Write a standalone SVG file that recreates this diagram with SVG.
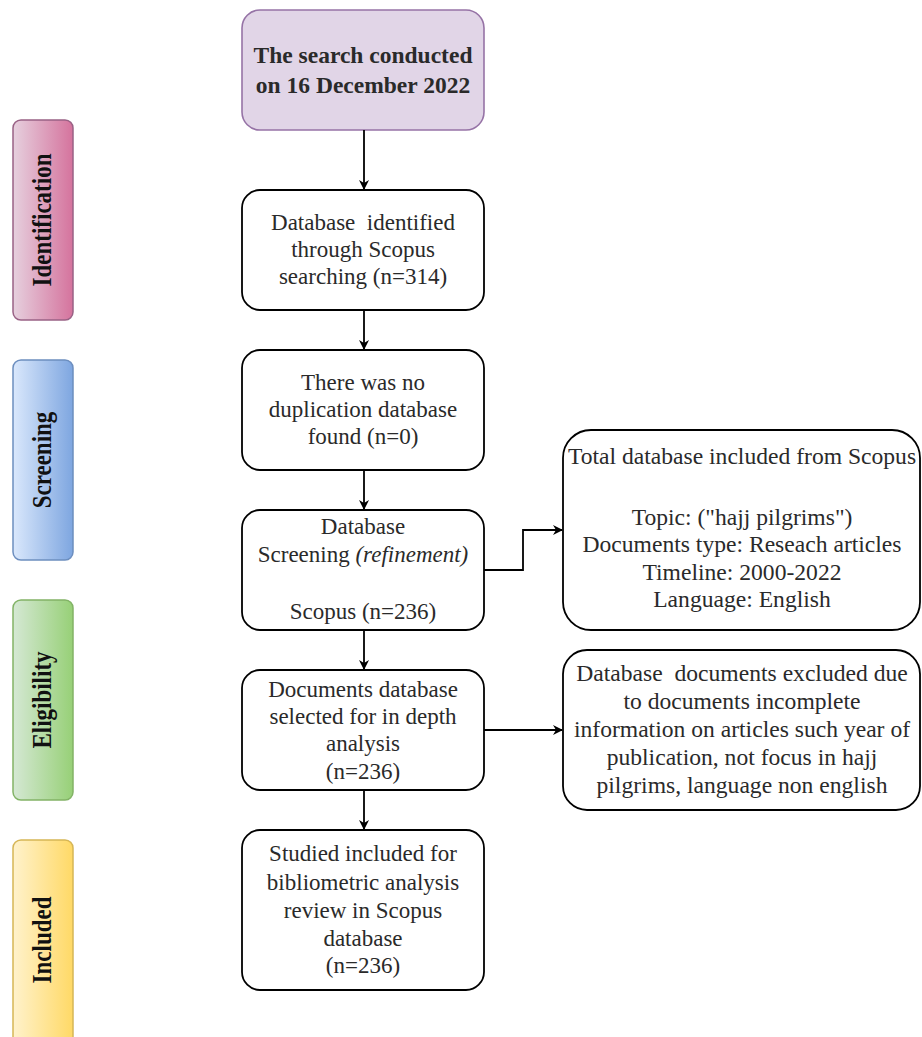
<svg xmlns="http://www.w3.org/2000/svg" width="922" height="1037" viewBox="0 0 922 1037">
<defs>
<linearGradient id="gPink" x1="0" y1="0" x2="1" y2="0"><stop offset="0" stop-color="#e6d0de"/><stop offset="1" stop-color="#d5739d"/></linearGradient>
<linearGradient id="gBlue" x1="0" y1="0" x2="1" y2="0"><stop offset="0" stop-color="#dae8fc"/><stop offset="1" stop-color="#7ea6e0"/></linearGradient>
<linearGradient id="gGreen" x1="0" y1="0" x2="1" y2="0"><stop offset="0" stop-color="#d5e8d4"/><stop offset="1" stop-color="#97d077"/></linearGradient>
<linearGradient id="gYellow" x1="0" y1="0" x2="1" y2="0"><stop offset="0" stop-color="#fff2cc"/><stop offset="1" stop-color="#ffd966"/></linearGradient>
<marker id="arr" viewBox="0 0 10 10" refX="9" refY="5" markerWidth="10" markerHeight="10" markerUnits="userSpaceOnUse" orient="auto"><path d="M0,0 L10,5 L0,10 L3,5 Z" fill="#000"/></marker>
</defs>
<style>
.box{fill:#fff;stroke:#000;stroke-width:1.8}
.t{font-family:"Liberation Serif","Times New Roman",serif;font-size:23px;fill:#2a2a2a;text-anchor:middle}
.r{font-size:23.6px}
.b{font-weight:bold;font-size:23.5px}
.side{font-family:"Liberation Serif","Times New Roman",serif;font-size:23px;font-weight:bold;fill:#111;text-anchor:middle}
.edge{fill:none;stroke:#000;stroke-width:1.8;marker-end:url(#arr)}
</style>
<rect width="922" height="1037" fill="#fff"/>

<g id="phase-identification"><rect x="13" y="120" width="60" height="200" rx="8" fill="url(#gPink)" stroke="#996185" stroke-width="1.5"/><text class="side" transform="translate(51,220) rotate(-90) scale(1,1.2)">Identification</text></g>
<g id="phase-screening"><rect x="13" y="360" width="60" height="200" rx="8" fill="url(#gBlue)" stroke="#6c8ebf" stroke-width="1.5"/><text class="side" transform="translate(51,460) rotate(-90) scale(1,1.2)">Screening</text></g>
<g id="phase-eligibility"><rect x="13" y="600" width="60" height="200" rx="8" fill="url(#gGreen)" stroke="#82b366" stroke-width="1.5"/><text class="side" transform="translate(51,700) rotate(-90) scale(1,1.2)">Eligibility</text></g>
<g id="phase-included"><rect x="13" y="840" width="60" height="205" rx="8" fill="url(#gYellow)" stroke="#d6b656" stroke-width="1.5"/><text class="side" transform="translate(51,940) rotate(-90) scale(1,1.2)">Included</text></g>

<g id="n-search"><rect x="242" y="10" width="242" height="120" rx="18" fill="#e1d5e7" stroke="#9673a6" stroke-width="1.6"/>
<text class="t b" x="363" y="63">The search conducted</text><text class="t b" x="363" y="93">on 16 December 2022</text></g>

<g id="n-identified"><rect class="box" x="242" y="190" width="242" height="120" rx="18"/>
<text class="t" x="363" y="230" xml:space="preserve">Database  identified</text><text class="t" x="363" y="257">through Scopus</text><text class="t" x="363" y="284">searching (n=314)</text></g>

<g id="n-duplication"><rect class="box" x="242" y="350" width="242" height="120" rx="18"/>
<text class="t" x="363" y="390">There was no</text><text class="t" x="363" y="417">duplication database</text><text class="t" x="363" y="444">found (n=0)</text></g>

<g id="n-screening"><rect class="box" x="242" y="510" width="242" height="120" rx="18"/>
<text class="t" x="363" y="534">Database</text><text class="t" x="363" y="562">Screening <tspan font-style="italic">(refinement)</tspan></text><text class="t" x="363" y="619">Scopus (n=236)</text></g>

<g id="n-selected"><rect class="box" x="242" y="670" width="242" height="120" rx="18"/>
<text class="t" x="363" y="697">Documents database</text><text class="t" x="363" y="724">selected for in depth</text><text class="t" x="363" y="751">analysis</text><text class="t" x="363" y="779">(n=236)</text></g>

<g id="n-studied"><rect class="box" x="242" y="830" width="242" height="160" rx="18"/>
<text class="t" x="363" y="861">Studied included for</text><text class="t" x="363" y="890">bibliometric analysis</text><text class="t" x="363" y="918">review in Scopus</text><text class="t" x="363" y="946">database</text><text class="t" x="363" y="973">(n=236)</text></g>

<g id="n-total"><rect class="box" x="563" y="430" width="357" height="200" rx="28"/>
<text class="t r" x="742" y="464">Total database included from Scopus</text><text class="t r" x="742" y="525">Topic: ("hajj pilgrims")</text><text class="t r" x="742" y="552">Documents type: Reseach articles</text><text class="t r" x="742" y="580">Timeline: 2000-2022</text><text class="t r" x="742" y="607">Language: English</text></g>

<g id="n-excluded"><rect class="box" x="563" y="650" width="357" height="160" rx="24"/>
<text class="t r" x="742" y="681" xml:space="preserve">Database  documents excluded due</text><text class="t r" x="742" y="709">to documents incomplete</text><text class="t r" x="742" y="737">information on articles such year of</text><text class="t r" x="742" y="765">publication, not focus in hajj</text><text class="t r" x="742" y="793">pilgrims, language non english</text></g>

<g id="connectors">
<path class="edge" d="M364,130 L364,189"/>
<path class="edge" d="M364,310 L364,349"/>
<path class="edge" d="M364,470 L364,509"/>
<path class="edge" d="M364,630 L364,669"/>
<path class="edge" d="M364,790 L364,829"/>
<path class="edge" d="M484,570 L523,570 L523,530 L562,530"/>
<path class="edge" d="M484,730 L562,730"/>
</g>
</svg>
